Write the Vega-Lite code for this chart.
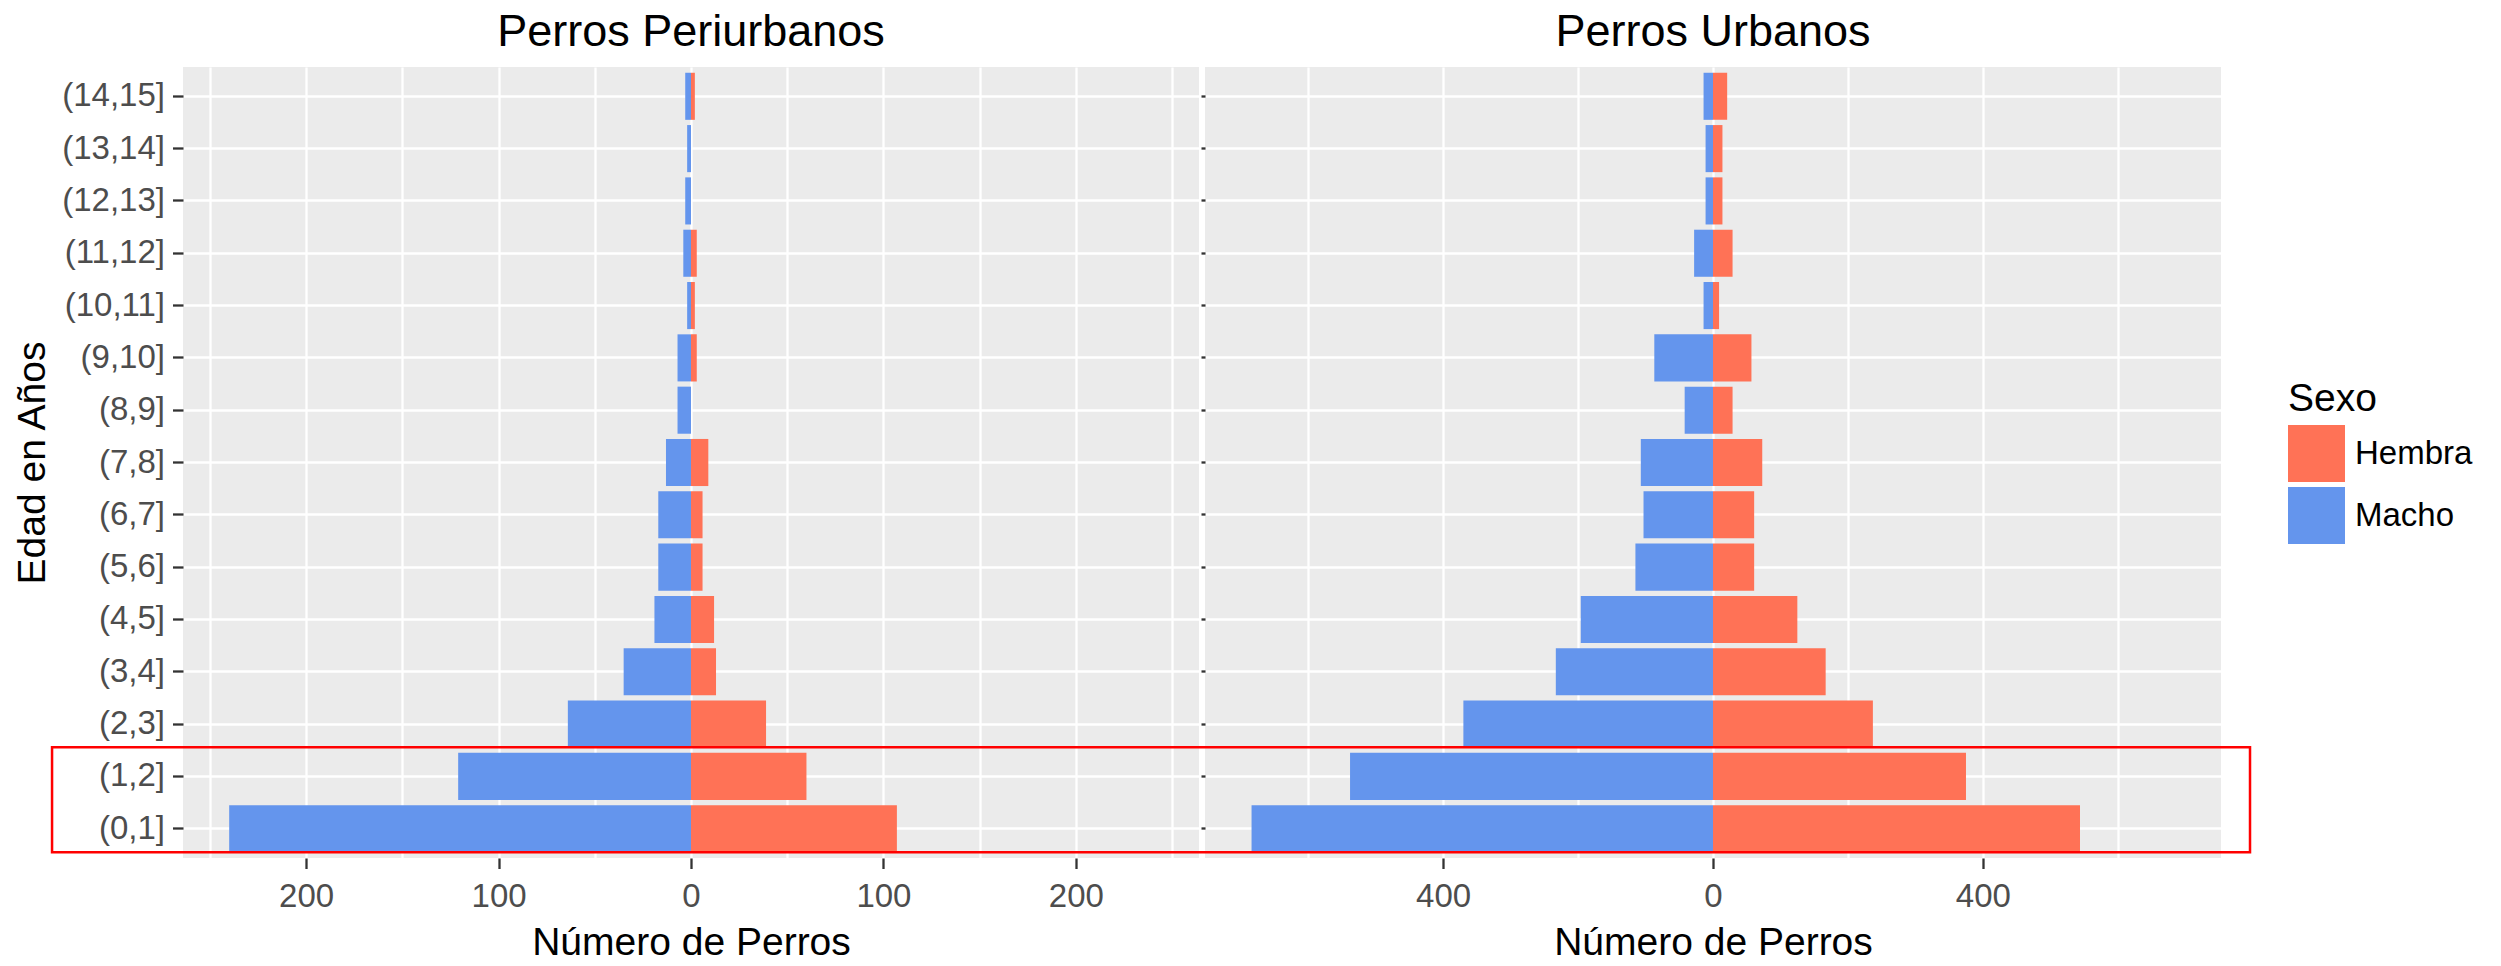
{
  "$schema": "https://vega.github.io/schema/vega-lite/v6.json",
  "background": "white",
  "padding": {"left": 13, "top": 10, "right": 10, "bottom": 5},
  "bounds": "flush",
  "spacing": 6,
  "datasets": {
    "perros": [
      {"zona": "Periurbanos", "edad": "(0,1]", "sexo": "Macho", "n": -240},
      {"zona": "Periurbanos", "edad": "(0,1]", "sexo": "Hembra", "n": 107},
      {"zona": "Periurbanos", "edad": "(1,2]", "sexo": "Macho", "n": -121},
      {"zona": "Periurbanos", "edad": "(1,2]", "sexo": "Hembra", "n": 60},
      {"zona": "Periurbanos", "edad": "(2,3]", "sexo": "Macho", "n": -64},
      {"zona": "Periurbanos", "edad": "(2,3]", "sexo": "Hembra", "n": 39},
      {"zona": "Periurbanos", "edad": "(3,4]", "sexo": "Macho", "n": -35},
      {"zona": "Periurbanos", "edad": "(3,4]", "sexo": "Hembra", "n": 13},
      {"zona": "Periurbanos", "edad": "(4,5]", "sexo": "Macho", "n": -19},
      {"zona": "Periurbanos", "edad": "(4,5]", "sexo": "Hembra", "n": 12},
      {"zona": "Periurbanos", "edad": "(5,6]", "sexo": "Macho", "n": -17},
      {"zona": "Periurbanos", "edad": "(5,6]", "sexo": "Hembra", "n": 6},
      {"zona": "Periurbanos", "edad": "(6,7]", "sexo": "Macho", "n": -17},
      {"zona": "Periurbanos", "edad": "(6,7]", "sexo": "Hembra", "n": 6},
      {"zona": "Periurbanos", "edad": "(7,8]", "sexo": "Macho", "n": -13},
      {"zona": "Periurbanos", "edad": "(7,8]", "sexo": "Hembra", "n": 9},
      {"zona": "Periurbanos", "edad": "(8,9]", "sexo": "Macho", "n": -7},
      {"zona": "Periurbanos", "edad": "(9,10]", "sexo": "Macho", "n": -7},
      {"zona": "Periurbanos", "edad": "(9,10]", "sexo": "Hembra", "n": 3},
      {"zona": "Periurbanos", "edad": "(10,11]", "sexo": "Macho", "n": -2},
      {"zona": "Periurbanos", "edad": "(10,11]", "sexo": "Hembra", "n": 2},
      {"zona": "Periurbanos", "edad": "(11,12]", "sexo": "Macho", "n": -4},
      {"zona": "Periurbanos", "edad": "(11,12]", "sexo": "Hembra", "n": 3},
      {"zona": "Periurbanos", "edad": "(12,13]", "sexo": "Macho", "n": -3},
      {"zona": "Periurbanos", "edad": "(13,14]", "sexo": "Macho", "n": -2},
      {"zona": "Periurbanos", "edad": "(14,15]", "sexo": "Macho", "n": -3},
      {"zona": "Periurbanos", "edad": "(14,15]", "sexo": "Hembra", "n": 2},
      {"zona": "Urbanos", "edad": "(0,1]", "sexo": "Macho", "n": -684},
      {"zona": "Urbanos", "edad": "(0,1]", "sexo": "Hembra", "n": 544},
      {"zona": "Urbanos", "edad": "(1,2]", "sexo": "Macho", "n": -538},
      {"zona": "Urbanos", "edad": "(1,2]", "sexo": "Hembra", "n": 375},
      {"zona": "Urbanos", "edad": "(2,3]", "sexo": "Macho", "n": -370},
      {"zona": "Urbanos", "edad": "(2,3]", "sexo": "Hembra", "n": 237},
      {"zona": "Urbanos", "edad": "(3,4]", "sexo": "Macho", "n": -233},
      {"zona": "Urbanos", "edad": "(3,4]", "sexo": "Hembra", "n": 167},
      {"zona": "Urbanos", "edad": "(4,5]", "sexo": "Macho", "n": -196},
      {"zona": "Urbanos", "edad": "(4,5]", "sexo": "Hembra", "n": 125},
      {"zona": "Urbanos", "edad": "(5,6]", "sexo": "Macho", "n": -115},
      {"zona": "Urbanos", "edad": "(5,6]", "sexo": "Hembra", "n": 61},
      {"zona": "Urbanos", "edad": "(6,7]", "sexo": "Macho", "n": -103},
      {"zona": "Urbanos", "edad": "(6,7]", "sexo": "Hembra", "n": 61},
      {"zona": "Urbanos", "edad": "(7,8]", "sexo": "Macho", "n": -107},
      {"zona": "Urbanos", "edad": "(7,8]", "sexo": "Hembra", "n": 73},
      {"zona": "Urbanos", "edad": "(8,9]", "sexo": "Macho", "n": -42},
      {"zona": "Urbanos", "edad": "(8,9]", "sexo": "Hembra", "n": 29},
      {"zona": "Urbanos", "edad": "(9,10]", "sexo": "Macho", "n": -87},
      {"zona": "Urbanos", "edad": "(9,10]", "sexo": "Hembra", "n": 57},
      {"zona": "Urbanos", "edad": "(10,11]", "sexo": "Macho", "n": -14},
      {"zona": "Urbanos", "edad": "(10,11]", "sexo": "Hembra", "n": 9},
      {"zona": "Urbanos", "edad": "(11,12]", "sexo": "Macho", "n": -28},
      {"zona": "Urbanos", "edad": "(11,12]", "sexo": "Hembra", "n": 29},
      {"zona": "Urbanos", "edad": "(12,13]", "sexo": "Macho", "n": -11},
      {"zona": "Urbanos", "edad": "(12,13]", "sexo": "Hembra", "n": 14},
      {"zona": "Urbanos", "edad": "(13,14]", "sexo": "Macho", "n": -11},
      {"zona": "Urbanos", "edad": "(13,14]", "sexo": "Hembra", "n": 14},
      {"zona": "Urbanos", "edad": "(14,15]", "sexo": "Macho", "n": -14},
      {"zona": "Urbanos", "edad": "(14,15]", "sexo": "Hembra", "n": 21}
    ]
  },
  "config": {
    "font": "Liberation Sans",
    "view": {"stroke": null, "fill": "#EBEBEB"},
    "title": {"font": "Liberation Sans", "fontSize": 45, "fontWeight": "normal", "color": "#000000", "anchor": "middle", "frame": "group", "offset": 12},
    "axis": {
      "labelFont": "Liberation Sans", "labelFontSize": 33, "labelColor": "#4D4D4D",
      "titleFont": "Liberation Sans", "titleFontSize": 39, "titleFontWeight": "normal", "titleColor": "#000000",
      "tickColor": "#333333", "tickWidth": 2.3, "tickSize": 10.5,
      "domain": false, "grid": true, "gridColor": "#FFFFFF", "gridWidth": 2.3,
      "labelOverlap": false, "labelFlush": false
    },
    "legend": {
      "padding": 0,
      "titleFont": "Liberation Sans", "titleFontSize": 39, "titleFontWeight": "normal", "titleColor": "#000000", "titlePadding": 6,
      "labelFont": "Liberation Sans", "labelFontSize": 33, "labelColor": "#000000", "labelOffset": 10,
      "symbolType": "square", "symbolSize": 3249, "symbolStrokeWidth": 0, "symbolOpacity": 1, "rowPadding": 5
    }
  },
  "resolve": {"scale": {"x": "independent", "y": "independent"}},
  "hconcat": [
    {
      "width": 1016,
      "height": 791,
      "title": "Perros Periurbanos",
      "data": {"name": "perros"},
      "transform": [{"filter": "datum.zona == 'Periurbanos'"}],
      "mark": {"type": "bar"},
      "encoding": {
        "y": {
          "field": "edad", "type": "ordinal",
          "scale": {"domain": ["(14,15]", "(13,14]", "(12,13]", "(11,12]", "(10,11]", "(9,10]", "(8,9]", "(7,8]", "(6,7]", "(5,6]", "(4,5]", "(3,4]", "(2,3]", "(1,2]", "(0,1]"], "paddingInner": 0.1, "paddingOuter": 0.11},
          "axis": {"title": "Edad en Años", "bandPosition": 0.5, "labelPadding": 8, "titlePadding": 9}
        },
        "x": {
          "field": "n", "type": "quantitative", "stack": null,
          "scale": {"domain": [-264, 264], "nice": false, "zero": false},
          "axis": {
            "title": "Número de Perros",
            "values": [-250, -200, -150, -100, -50, 0, 50, 100, 150, 200, 250],
            "labelExpr": "datum.value % 100 == 0 ? format(abs(datum.value), 'd') : ''",
            "tickOpacity": {"condition": {"test": "datum.value % 100 != 0", "value": 0}, "value": 1},
            "labelPadding": 12, "titlePadding": 10
          }
        },
        "color": {
          "field": "sexo", "type": "nominal",
          "scale": {"domain": ["Hembra", "Macho"], "range": ["#FF7256", "#6495ED"]},
          "legend": {"title": "Sexo", "orient": "none", "legendX": 2105, "legendY": 313}
        }
      }
    },
    {
      "width": 1016,
      "height": 791,
      "title": "Perros Urbanos",
      "data": {"name": "perros"},
      "transform": [{"filter": "datum.zona == 'Urbanos'"}],
      "layer": [
        {
          "mark": {"type": "bar"},
          "encoding": {
            "y": {
              "field": "edad", "type": "ordinal",
              "scale": {"domain": ["(14,15]", "(13,14]", "(12,13]", "(11,12]", "(10,11]", "(9,10]", "(8,9]", "(7,8]", "(6,7]", "(5,6]", "(4,5]", "(3,4]", "(2,3]", "(1,2]", "(0,1]"], "paddingInner": 0.1, "paddingOuter": 0.11},
              "axis": {"title": null, "labels": false, "bandPosition": 0.5, "tickSize": 4}
            },
            "x": {
              "field": "n", "type": "quantitative", "stack": null,
              "scale": {"domain": [-753, 753], "nice": false, "zero": false},
              "axis": {
                "title": "Número de Perros",
                "values": [-600, -400, -200, 0, 200, 400, 600],
                "labelExpr": "datum.value % 400 == 0 ? format(abs(datum.value), 'd') : ''",
                "tickOpacity": {"condition": {"test": "datum.value % 400 != 0", "value": 0}, "value": 1},
                "labelPadding": 12, "titlePadding": 10
              }
            },
            "color": {
              "field": "sexo", "type": "nominal",
              "scale": {"domain": ["Hembra", "Macho"], "range": ["#FF7256", "#6495ED"]},
              "legend": {"title": "Sexo", "orient": "none", "legendX": 2105, "legendY": 313}
            }
          }
        },
        {
          "data": {"values": [{}]},
          "mark": {"type": "rect", "fill": null, "stroke": "#FF0000", "strokeWidth": 2.5, "clip": false},
          "encoding": {
            "x": {"datum": -2462, "type": "quantitative", "scale": {"domain": [-753, 753], "nice": false, "zero": false}},
            "x2": {"datum": 796},
            "y": {"datum": "(1,2]", "type": "ordinal", "bandPosition": -0.12},
            "y2": {"datum": "(0,1]", "bandPosition": 1}
          }
        }
      ]
    }
  ]
}
